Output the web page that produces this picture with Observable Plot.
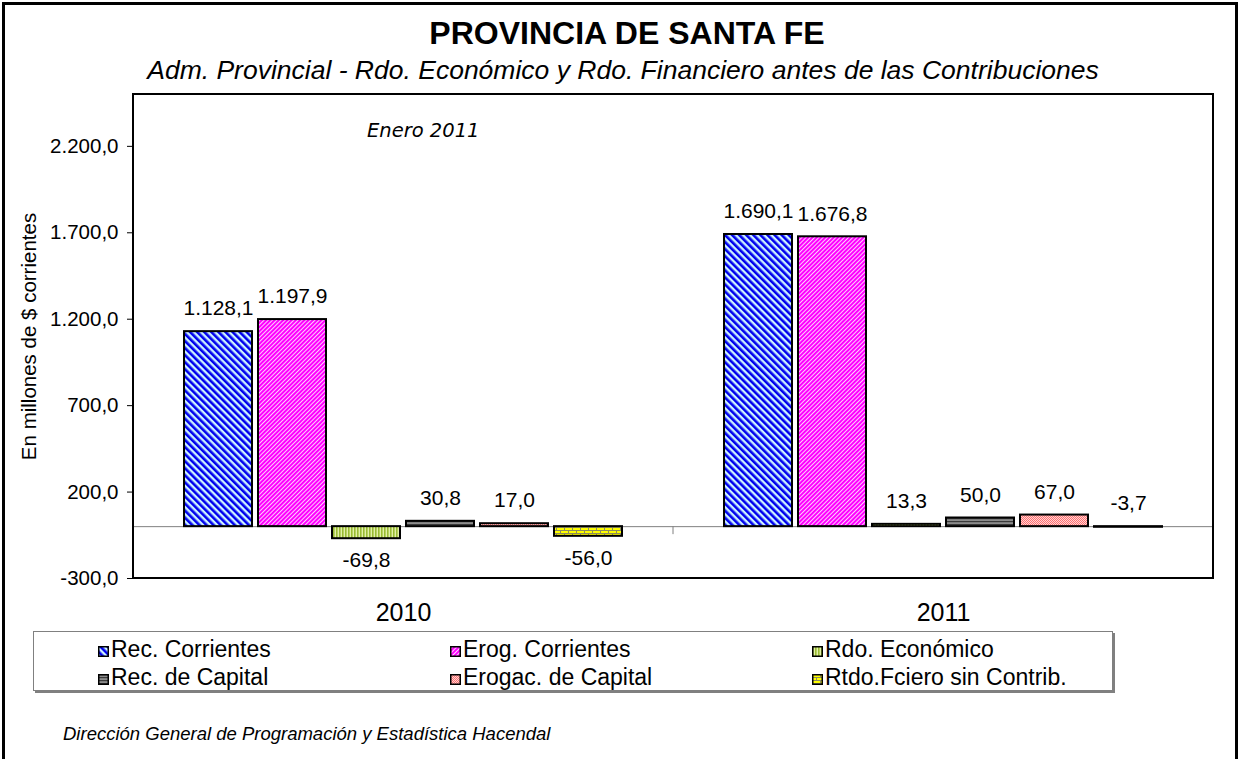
<!DOCTYPE html>
<html>
<head>
<meta charset="utf-8">
<script src="https://cdn.jsdelivr.net/npm/d3@7"></script>
<script src="https://cdn.jsdelivr.net/npm/@observablehq/plot@0.6"></script>
<style>
  html, body { margin: 0; padding: 0; background: #fff; overflow: hidden; }
  #page { position: relative; width: 1240px; height: 759px; overflow: hidden; font-family: "Liberation Sans", Arial, sans-serif; color: #000; }
  #border { position: absolute; left: 2px; top: 2px; width: 1230px; height: 800px; border: 3px solid #000; }
  .abs { position: absolute; white-space: nowrap; }
  #title { left: 0; width: 1254px; top: 15px; text-align: center; font-weight: bold; font-size: 32px; line-height: 36px; }
  #subtitle { left: 0; width: 1246px; top: 55px; text-align: center; font-style: italic; font-size: 26.5px; line-height: 30px; }
  #enero { left: 367px; top: 119px; font-family: "DejaVu Sans", sans-serif; font-style: italic; font-size: 19.5px; }
  #chart { position: absolute; left: 0; top: 80px; }
  #legend { left: 33px; top: 631px; width: 1078px; height: 58px; border: 1px solid #808080; box-shadow: 2px 2px 0 #808080; background: #fff; }
  .item { position: absolute; font-size: 23px; line-height: 22px; }
  .item svg { vertical-align: 0px; margin-right: 2px; }
  #footer { left: 63px; top: 723px; font-style: italic; font-size: 18.5px; line-height: 22px; }
</style>
</head>
<body>
<div id="page">
  <svg width="0" height="0" style="position:absolute">
    <defs>
      <pattern id="p0" width="5" height="5" patternUnits="userSpaceOnUse" patternTransform="rotate(-45)">
        <rect width="5" height="5" fill="#ccf2ff"/><rect width="2.6" height="5" fill="#0000ee"/>
      </pattern>
      <pattern id="p1" width="3" height="3" patternUnits="userSpaceOnUse" patternTransform="rotate(45)">
        <rect width="3" height="3" fill="#ffccff"/><rect width="2" height="3" fill="#ff00ff"/>
      </pattern>
      <pattern id="p2" width="3" height="3" patternUnits="userSpaceOnUse">
        <rect width="3" height="3" fill="#e2f0a8"/><rect width="1.6" height="3" fill="#99bb33"/>
      </pattern>
      <pattern id="p3" width="3" height="3" patternUnits="userSpaceOnUse">
        <rect width="3" height="3" fill="#8c8c8c"/><rect width="3" height="1.2" fill="#3a3a3a"/>
      </pattern>
      <pattern id="p4" width="2" height="2" patternUnits="userSpaceOnUse">
        <rect width="2" height="2" fill="#ffd4d4"/><rect width="1" height="1" fill="#ff7070"/><rect x="1" y="1" width="1" height="1" fill="#ff7070"/>
      </pattern>
      <pattern id="p5" width="8" height="6" patternUnits="userSpaceOnUse">
        <rect width="8" height="6" fill="#ffff00"/>
        <rect width="8" height="1" fill="#8c8c60"/><rect y="3" width="8" height="1" fill="#8c8c60"/>
        <rect x="0" y="0" width="1" height="3" fill="#8c8c60"/><rect x="4" y="3" width="1" height="3" fill="#8c8c60"/>
      </pattern>
    </defs>
  </svg>
  <div id="border"></div>
  <div id="title" class="abs">PROVINCIA DE SANTA FE</div>
  <div id="subtitle" class="abs">Adm. Provincial - Rdo. Económico y Rdo. Financiero antes de las Contribuciones</div>
  <div id="chart"></div>
  <div id="enero" class="abs">Enero 2011</div>
  <div id="legend" class="abs"></div>
  <div id="footer" class="abs">Dirección General de Programación y Estadística Hacendal</div>
</div>
<script>
// ---- data ----
const years = ["2010", "2011"];
const series = ["Rec. Corrientes", "Erog. Corrientes", "Rdo. Económico", "Rec. de Capital", "Erogac. de Capital", "Rtdo.Fciero sin Contrib."];
const values2010 = [1128.1, 1197.9, -69.8, 30.8, 17.0, -56.0];
const values2011 = [1690.1, 1676.8, 13.3, 50.0, 67.0, -3.7];
const yTicks = [-300, 200, 700, 1200, 1700, 2200];
const patternIds = ["p0", "p1", "p2", "p3", "p4", "p5"];

const data = [];
[values2010, values2011].forEach((vals, i) => {
  vals.forEach((v, j) => data.push({year: years[i], series: series[j], value: v}));
});

const locale = d3.formatLocale({decimal: ",", thousands: ".", grouping: [3], currency: ["$", ""], minus: "-"});
const fmt = locale.format(",.1f");

const fills = patternIds.map(id => `url(#${id})`);

const fig = Plot.plot({
  width: 1240,
  height: 550,
  marginLeft: 133,
  marginRight: 27,
  marginTop: 14,
  marginBottom: 52,
  style: {fontFamily: "'Liberation Sans', Arial, sans-serif", fontSize: "20.5px", color: "#000", background: "transparent"},
  fx: {domain: years, padding: 0, label: null, tickSize: 0, tickPadding: 25},
  x: {domain: series, axis: null, paddingInner: 0.08, paddingOuter: 0.68},
  y: {domain: [-300, 2500], ticks: yTicks, tickFormat: fmt, tickSize: 6, tickPadding: 9,
      label: "En millones de $ corrientes", labelAnchor: "center", labelOffset: 112, labelArrow: false},
  color: {domain: series, range: fills, type: "ordinal"},
  marks: [
    Plot.ruleY([0], {stroke: "#808080", strokeWidth: 1}),
    Plot.barY(data, {fx: "year", x: "series", y: "value", fill: "series", stroke: "#000", strokeWidth: 2}),
    Plot.text(data.filter(d => d.value >= -20), {fx: "year", x: "series", y: d => Math.max(d.value, 0), text: d => fmt(d.value), dy: -23, fontSize: 21}),
    Plot.text(data.filter(d => d.value < -20), {fx: "year", x: "series", y: "value", text: d => fmt(d.value), dy: 22, fontSize: 21})
  ]
});
document.getElementById("chart").appendChild(fig);

const svg = d3.select(fig);
// larger category (year) labels
svg.selectAll("text").filter(function() { return years.includes(this.textContent); })
  .attr("font-size", 25).style("font-size", "25px");

// frame around the whole plotting area, computed from the scales
const fxS = fig.scale("fx");
const yS = fig.scale("y");
const x0 = Math.min(...fxS.range), x1 = Math.max(...fxS.range);
const yTop = Math.min(...yS.range), yBot = Math.max(...yS.range);
svg.append("rect").attr("x", x0).attr("y", yTop).attr("width", x1 - x0).attr("height", yBot - yTop)
  .attr("fill", "none").attr("stroke", "#000").attr("stroke-width", 2);
// category separator tick at zero line
const yScale = d3.scaleLinear().domain(yS.domain).range(yS.range);
const sepX = x0 + (x1 - x0) / years.length;
svg.append("line").attr("x1", sepX).attr("x2", sepX).attr("y1", yScale(0)).attr("y2", yScale(0) + 8)
  .attr("stroke", "#808080").attr("stroke-width", 1);

// legend
const legend = document.getElementById("legend");
const colX = [64, 416, 778];
const rowY = [6, 34];
series.forEach((s, i) => {
  const el = document.createElement("div");
  el.className = "item";
  el.style.left = colX[i % 3] + "px";
  el.style.top = rowY[Math.floor(i / 3)] + "px";
  el.innerHTML = `<svg width="11" height="11"><rect x="0.75" y="0.75" width="9.5" height="9.5" fill="${fills[i]}" stroke="#000" stroke-width="1.5"/></svg>${s}`;
  legend.appendChild(el);
});
</script>
</body>
</html>
